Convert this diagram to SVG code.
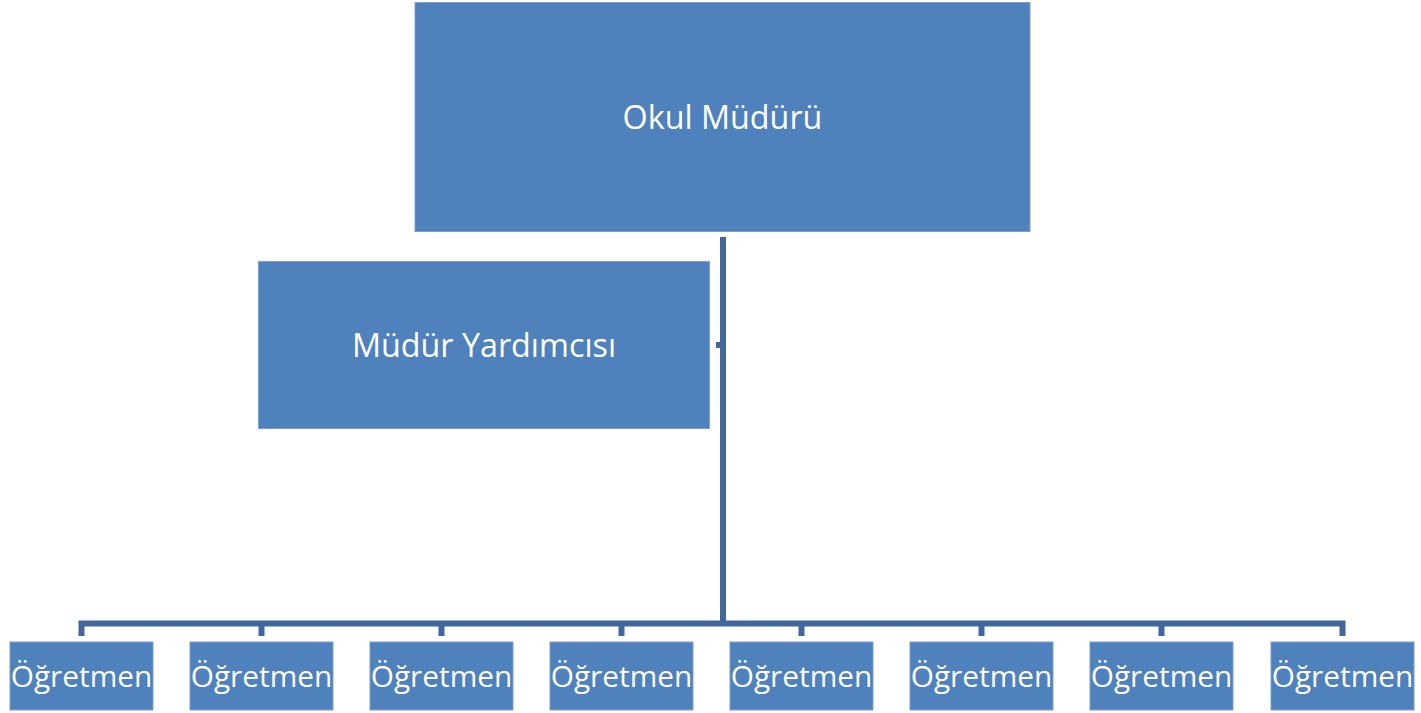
<svg xmlns="http://www.w3.org/2000/svg" width="1421" height="713" viewBox="0 0 1421 713">
<style>
.box{fill:#4F81BD;stroke:#7C9FD0;stroke-width:1}
.lbl{font-family:"Open Sans","Noto Sans",sans-serif;fill:#FFFFFF;text-anchor:middle;dominant-baseline:central}
.big{font-size:32.3px}
.sm{font-size:29.8px}
.con{fill:none;stroke:#41679B;stroke-width:6}
</style>
<rect width="1421" height="713" fill="#FFFFFF"/>
<g id="connectors">
<path class="con" d="M723,237 V623"/>
<path class="con" d="M716,345 H723"/>
<path class="con" d="M81.5,636 V623.5 H1342.5 V636"/>
<path class="con" d="M261.5,623 V636 M441.5,623 V636 M621.5,623 V636 M801.5,623 V636 M981.5,623 V636 M1161.5,623 V636"/>
</g>
<g id="node-okul-muduru">
<rect class="box" x="415" y="2.5" width="615" height="229"/>
<text class="lbl big" x="722.5" y="116">Okul Müdürü</text>
</g>
<g id="node-mudur-yardimcisi">
<rect class="box" x="258.5" y="261.5" width="451" height="167"/>
<text class="lbl big" x="484" y="344">Müdür Yardımcısı</text>
</g>
<g id="node-ogretmen-1"><rect class="box" x="10" y="642" width="143" height="68"/><text class="lbl sm" x="81.5" y="675">Öğretmen</text></g>
<g id="node-ogretmen-2"><rect class="box" x="190" y="642" width="143" height="68"/><text class="lbl sm" x="261.5" y="675">Öğretmen</text></g>
<g id="node-ogretmen-3"><rect class="box" x="370" y="642" width="143" height="68"/><text class="lbl sm" x="441.5" y="675">Öğretmen</text></g>
<g id="node-ogretmen-4"><rect class="box" x="550" y="642" width="143" height="68"/><text class="lbl sm" x="621.5" y="675">Öğretmen</text></g>
<g id="node-ogretmen-5"><rect class="box" x="730" y="642" width="143" height="68"/><text class="lbl sm" x="801.5" y="675">Öğretmen</text></g>
<g id="node-ogretmen-6"><rect class="box" x="910" y="642" width="143" height="68"/><text class="lbl sm" x="981.5" y="675">Öğretmen</text></g>
<g id="node-ogretmen-7"><rect class="box" x="1090" y="642" width="143" height="68"/><text class="lbl sm" x="1161.5" y="675">Öğretmen</text></g>
<g id="node-ogretmen-8"><rect class="box" x="1271" y="642" width="143" height="68"/><text class="lbl sm" x="1342.5" y="675">Öğretmen</text></g>
</svg>
